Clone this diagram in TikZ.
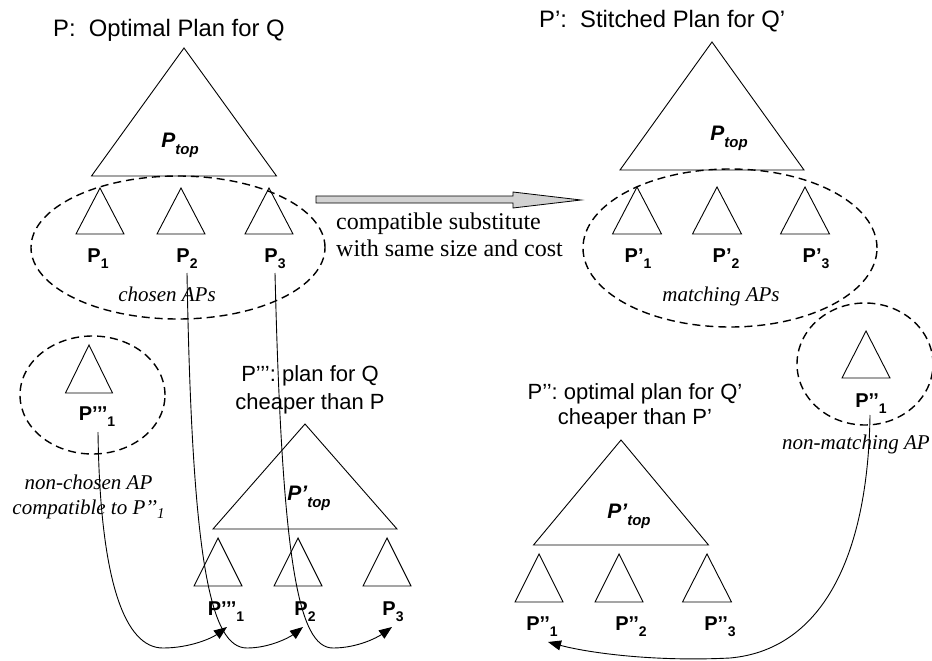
\documentclass[tikz,border=0pt]{standalone}
\usepackage{fontspec}
\setmainfont{Liberation Serif}
\setsansfont{Liberation Sans}
\usetikzlibrary{arrows.meta,shapes.geometric}
\newcommand\sbs[1]{\raisebox{-6pt}{\fontsize{14}{14}\selectfont #1}}
\newcommand\tsub[1]{\raisebox{-7pt}{\fontsize{15}{15}\selectfont #1}}
\newcommand\mytri[4]{\draw[tri] (#1,#2) -- ++(#3,#4) -- ++({-2*#3},0) -- cycle;}
\begin{document}
\begin{tikzpicture}[x=1pt,y=-1pt,
  tri/.style={draw,line width=0.9pt,line join=miter},
  dashell/.style={draw,ellipse,dash pattern=on 8pt off 5pt,line width=1.4pt,inner sep=0pt},
  lbl/.style={font=\sffamily\bfseries\fontsize{20}{20}\selectfont,inner sep=0pt,anchor=base},
  toplbl/.style={font=\sffamily\bfseries\itshape\fontsize{21}{21}\selectfont,inner sep=0pt,anchor=base},
  ttl/.style={font=\sffamily\fontsize{23.8}{28}\selectfont,inner sep=0pt,anchor=base west},
  ann/.style={font=\sffamily\fontsize{22}{27}\selectfont,inner sep=0pt,align=center},
  itx/.style={font=\itshape\fontsize{21}{25}\selectfont,inner sep=0pt,align=center},
  rmx/.style={font=\fontsize{24}{27}\selectfont,inner sep=0pt,align=left},
  conn/.style={line width=0.9pt,-{Triangle[length=13pt,width=10pt]}}]
\useasboundingbox (0,0) rectangle (932,661);

% ---------- titles ----------
\node[ttl] (t1) at (53,36.5) {P:\ \ Optimal Plan for Q};
\node[ttl] (t2) at (539,28) {P’:\ \ Stitched Plan for Q’};

% ---------- top-left tree ----------
\mytri{184}{48}{92.5}{128}
\node[toplbl] (ptopA) at (180,147) {P\tsub{top}};
\mytri{100}{188}{24}{46}
\mytri{181}{188}{24}{46}
\mytri{269}{188}{24}{46}
\node[lbl] (lP1) at (98,262) {P\sbs{1}};
\node[lbl] (lP2) at (187,262) {P\sbs{2}};
\node[lbl] (lP3) at (275,262) {P\sbs{3}};
\node[dashell,minimum width=294pt,minimum height=143pt] (EA) at (178,247.5) {};
\node[itx,anchor=base] (chosen) at (167,301) {chosen APs};

% ---------- top-right tree ----------
\mytri{712}{42}{92}{128}
\node[toplbl] (ptopB) at (729,140) {P\tsub{top}};
\mytri{637}{187}{24.5}{47}
\mytri{717}{187}{24.5}{47}
\mytri{805}{187}{24.5}{47}
\node[lbl] (lQ1) at (638,262) {P’\sbs{1}};
\node[lbl] (lQ2) at (726,262) {P’\sbs{2}};
\node[lbl] (lQ3) at (816,262) {P’\sbs{3}};
\node[dashell,minimum width=294pt,minimum height=158pt] (EB) at (730,248) {};
\node[itx,anchor=base] (matching) at (721,301) {matching APs};

% ---------- gray arrow ----------
\coordinate (ga) at (316,199.5);
\coordinate (gb) at (581,200);
\draw[fill=gray!35,line width=0.8pt,line join=miter]
  (ga) ++(0,-3.5) -- (513,196) -- (513,192) -- (gb) -- (513,208) -- (513,203) -- ([yshift=-3.5pt]ga) -- cycle;
\node[rmx,anchor=west] (subst) at (336,235) {compatible substitute\\with same size and cost};

% ---------- lower-left ----------
\node[dashell,minimum width=145pt,minimum height=118pt] (EC) at (92.5,395) {};
\mytri{89}{345}{23.5}{48}
\node[lbl] (lR1) at (97,420) {P’’’\sbs{1}};
\node[itx] (nonch) at (88.5,497) {non-chosen AP\\compatible to P’’\raisebox{-4pt}{\fontsize{15}{15}\selectfont 1}};

\node[ann] (annA) at (310,390) {P’’’: plan for Q\\[1pt]cheaper than P};
\mytri{305}{424}{92}{105}
\node[toplbl] (ptopC) at (309,500) {P’\tsub{top}};
\mytri{218}{538}{24}{48}
\mytri{298}{538}{24}{48}
\mytri{387}{538}{24}{48}
\node[lbl] (lS1) at (226,615) {P’’’\sbs{1}};
\node[lbl] (lS2) at (305,615) {P\sbs{2}};
\node[lbl] (lS3) at (393,615) {P\sbs{3}};

% ---------- lower-right ----------
\node[dashell,minimum width=136pt,minimum height=122pt] (ED) at (865,364) {};
\mytri{866}{331}{24}{47}
\node[lbl] (lT1) at (871,407) {P’’\sbs{1}};
\node[itx,anchor=base west] (nonmatch) at (782,449) {non-matching AP};

\node[ann] (annB) at (635,406) {P’’: optimal plan for Q’\\[-2pt]cheaper than P’};
\mytri{621}{440}{87.5}{105}
\node[toplbl] (ptopD) at (629,518) {P’\tsub{top}};
\mytri{539}{554}{24}{48}
\mytri{619}{554}{24}{48}
\mytri{707}{554}{24.5}{48}
\node[lbl] (lU1) at (542,630) {P’’\sbs{1}};
\node[lbl] (lU2) at (631,630) {P’’\sbs{2}};
\node[lbl] (lU3) at (720,630) {P’’\sbs{3}};

% ---------- curved connectors ----------
\coordinate (s1) at (98,432);  \coordinate (b1) at (163,648); \coordinate (e1) at (227,627);
\coordinate (s2) at (187,273); \coordinate (b2) at (247,648); \coordinate (e2) at (303,627);
\coordinate (s3) at (275,273); \coordinate (b3) at (333,648); \coordinate (e3) at (392,627);
\coordinate (s4) at (870,415); \coordinate (b4) at (730,658); \coordinate (e4) at (548,642);
\draw[conn] (s1) .. controls +(2,150) and +(-38,0) .. (b1) .. controls +(27,0) and +(-15,11) .. (e1);
\draw[conn] (s2) .. controls +(5,287) and +(-37,0) .. (b2) .. controls +(23,0) and +(-13,10) .. (e2);
\draw[conn] (s3) .. controls +(7,287) and +(-35,0) .. (b3) .. controls +(25,0) and +(-14,10) .. (e3);
\draw[conn] (s4) .. controls +(-2,145) and +(90,-8) .. (b4) .. controls +(-80,4) and +(37,10) .. (e4);
\end{tikzpicture}
\end{document}
